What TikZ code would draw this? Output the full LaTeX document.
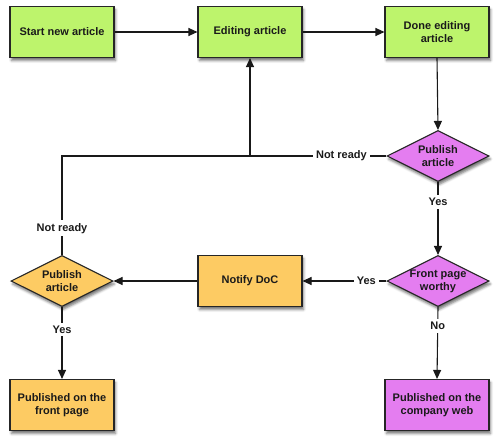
\documentclass[tikz,border=0pt]{standalone}
\usepackage{fontspec}
\setmainfont{Liberation Sans}
\usetikzlibrary{shapes.geometric,arrows.meta,shadows.blur}
\definecolor{boxgreen}{HTML}{BDF46C}
\definecolor{boxpink}{HTML}{E47DF0}
\definecolor{boxorange}{HTML}{FDCB63}
\definecolor{inktext}{HTML}{1A1A1A}
\tikzset{
  base/.style={draw=black!85, line width=1.1pt, font=\bfseries\fontsize{11}{13}\selectfont,
    text=inktext, align=center, blur shadow={shadow xshift=1.5pt, shadow yshift=-3pt, shadow blur radius=2.5pt, shadow opacity=55}},
  box/.style={base, rectangle, minimum width=104pt, minimum height=51pt, inner sep=2pt},
  dia/.style={base, diamond, aspect=2.2, minimum width=102pt, minimum height=51pt, inner sep=-1pt},
  green/.style={fill=boxgreen},
  pink/.style={fill=boxpink},
  orange/.style={fill=boxorange},
  conn/.style={line width=1.1pt, draw=black!90},
  arr/.style={conn, -{Triangle[length=9pt,width=8pt]}},
  lbl/.style={fill=white, inner sep=3pt, font=\bfseries\fontsize{11}{13}\selectfont, text=inktext}
}
\begin{document}
\begin{tikzpicture}[x=1pt,y=-1pt]
\useasboundingbox (0,0) rectangle (500,444);
\node[box,green] (start) at (62,32) {Start new article};
\node[box,green] (edit) at (250,32) {Editing article};
\node[box,green] (done) at (437,32) {Done editing\\article};
\node[dia,pink] (pub1) at (438,156) {Publish\\article};
\node[dia,pink] (front) at (438,281) {Front page\\worthy};
\node[box,pink] (web) at (437,405) {Published on the\\company web};
\node[box,orange] (notify) at (250,281) {Notify DoC};
\node[dia,orange] (pub2) at (62,281) {Publish\\article};
\node[box,orange] (fp) at (62,405) {Published on the\\front page};
\coordinate (j1) at (250,156);
\coordinate (j2) at (62,156);

\draw[arr] (start.east) -- (edit.west);
\draw[arr] (edit.east) -- (done.west);
\draw[arr] (done.south) -- (pub1.north);
\draw[conn] (pub1.west) -- node[lbl,pos=0.33] {Not ready} (j1);
\draw[arr] (j1) -- (edit.south);
\draw[conn] (pub2.north) -- node[lbl,pos=0.27] {Not ready} (j2) -- (j1);
\draw[arr] (pub1.south) -- node[lbl,pos=0.27] {Yes} (front.north);
\draw[arr] (front.west) -- node[lbl,pos=0.24] {Yes} (notify.east);
\draw[arr] (notify.west) -- (pub2.east);
\draw[arr] (front.south) -- node[lbl,pos=0.26] {No} (web.north);
\draw[arr] (pub2.south) -- node[lbl,pos=0.31] {Yes} (fp.north);
\end{tikzpicture}
\end{document}
